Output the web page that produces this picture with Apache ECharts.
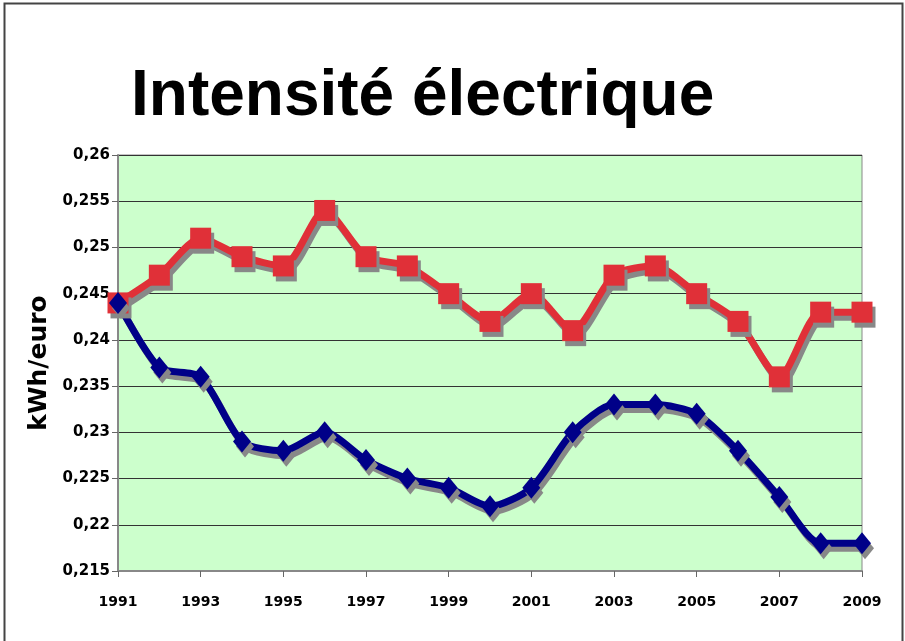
<!DOCTYPE html>
<html>
<head>
<meta charset="utf-8">
<script src="https://cdn.jsdelivr.net/npm/echarts@6/dist/echarts.min.js"></script>
<style>
html, body { margin: 0; padding: 0; background: #fff; }
#chart { width: 905px; height: 641px; }
</style>
</head>
<body>
<div id="chart"></div>
<script>
const years = ['1991','1992','1993','1994','1995','1996','1997','1998','1999','2000',
	'2001','2002','2003','2004','2005','2006','2007','2008','2009']
const redValues = [0.244, 0.247, 0.251, 0.249, 0.248, 0.254, 0.249, 0.248, 0.245, 0.242,
	0.245, 0.241, 0.247, 0.248, 0.245, 0.242, 0.236, 0.243, 0.243]
const blueValues = [0.244, 0.237, 0.236, 0.229, 0.228, 0.230, 0.227, 0.225, 0.224, 0.222,
	0.224, 0.230, 0.233, 0.233, 0.232, 0.228, 0.223, 0.218, 0.218]
const yMin = 0.215
const yMax = 0.26
const yStep = 0.005

const fmt = v => String(+v.toFixed(3)).replace('.', ',')

const shadow = { shadowColor: '#888', shadowBlur: 0, shadowOffsetX: 3, shadowOffsetY: 5 }

const chart = echarts.init(document.getElementById('chart'))
chart.setOption({
	animation: false,
	graphic: [{
		type: 'rect', left: 2, top: 1,
		shape: { width: 898, height: 640 },
		style: { fill: 'none', stroke: '#444', lineWidth: 2 }
	}],
	title: {
		text: 'Intensité électrique',
		left: 126, top: 60,
		textStyle: { fontFamily: 'Liberation Sans', fontWeight: 'bold', fontSize: 64, color: '#000' }
	},
	grid: { left: 118, right: 43, top: 155, bottom: 70, show: true, backgroundColor: '#ccffcc', borderColor: '#888', borderWidth: 1 },
	xAxis: {
		type: 'category',
		data: years,
		boundaryGap: false,
		axisLine: { lineStyle: { color: '#888', width: 2 } },
		axisTick: { interval: 1, length: 6, lineStyle: { color: '#666' } },
		axisLabel: { interval: 1, color: '#000', fontWeight: 'bold', fontFamily: 'DejaVu Sans', fontSize: 14, margin: 24 }
	},
	yAxis: {
		type: 'value',
		min: yMin, max: yMax, interval: yStep,
		name: 'kWh/euro',
		nameLocation: 'middle',
		nameGap: 66,
		nameTextStyle: { color: '#000', fontWeight: 'bold', fontFamily: 'DejaVu Sans', fontSize: 25 },
		axisLine: { show: true, lineStyle: { color: '#888', width: 2 } },
		axisTick: { show: true, length: 6, lineStyle: { color: '#666' } },
		splitLine: { lineStyle: { color: '#333', width: 1 } },
		axisLabel: { formatter: fmt, color: '#000', fontWeight: 'bold', fontFamily: 'DejaVu Sans', fontSize: 15, margin: 8 }
	},
	series: [
		{
			type: 'line', data: redValues, smooth: 0.25,
			symbol: 'rect', symbolSize: 21,
			lineStyle: Object.assign({ color: '#e03038', width: 7 }, shadow),
			itemStyle: Object.assign({ color: '#e03038' }, shadow)
		},
		{
			type: 'line', data: blueValues, smooth: 0.25,
			symbol: 'diamond', symbolSize: [18, 22],
			lineStyle: Object.assign({ color: '#000088', width: 7 }, shadow),
			itemStyle: Object.assign({ color: '#000088' }, shadow)
		}
	]
})
</script>
</body>
</html>
